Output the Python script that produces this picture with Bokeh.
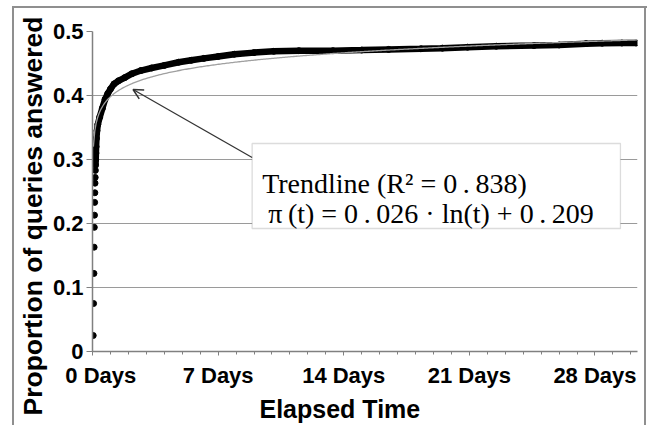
import numpy as np
from bokeh.plotting import figure
from bokeh.models import (FixedTicker, Label, BoxAnnotation, Arrow, OpenHead,
                          Range1d, Title)
from bokeh.embed import file_html
from bokeh.resources import INLINE

# ---- data ----
elapsed_days = [0.04, 0.06, 0.08, 0.09, 0.10, 0.11, 0.12, 0.13, 0.14, 0.15, 0.16,
                0.17, 0.18, 0.19, 0.20, 0.22, 0.25, 0.30, 0.40, 0.55, 0.70, 0.85,
                1.0, 1.2, 1.45, 1.8, 2.2, 2.7, 3.3, 4.0, 4.8, 5.5, 6.2, 7.0, 7.9,
                9.0, 10.1, 11.5, 13.4, 15.0, 16.5, 18.3, 19.5, 20.9, 22.5, 24.6,
                26.0, 27.5, 28.4, 29.5, 30.3]
proportion = [0.025, 0.075, 0.122, 0.163, 0.194, 0.213, 0.233, 0.248, 0.263, 0.272,
              0.283, 0.291, 0.300, 0.310, 0.320, 0.333, 0.345, 0.355, 0.366, 0.380,
              0.394, 0.403, 0.410, 0.418, 0.423, 0.428, 0.434, 0.439, 0.443, 0.447,
              0.452, 0.455, 0.458, 0.461, 0.4645, 0.467, 0.469, 0.470, 0.470, 0.471,
              0.472, 0.473, 0.474, 0.4755, 0.477, 0.478, 0.479, 0.481, 0.4817,
              0.482, 0.482]

# trendline coefficients as printed on the chart (t in minutes)
trend_slope = 0.026
trend_intercept = 0.209

x_ticks = [0, 7, 14, 21, 28]
x_tick_labels = ["\u00a0\u00a0\u20090 Days", "7 Days", "14 Days", "21 Days", "28 Days"]
y_ticks = [0, 0.1, 0.2, 0.3, 0.4, 0.5]
y_tick_labels = ["0", "0.1", "0.2", "0.3", "0.4", "0.5"]

X_MAX = 30.37

G = "linear-gradient(#8f8f8f, #8f8f8f)"
border_css = (f"{G} 12px 6px / 2px 430px no-repeat, "
              f"{G} 12px 6px / 635px 2px no-repeat, "
              f"{G} 644px 6px / 2px 430px no-repeat, #ffffff")

p = figure(width=650, height=425, output_backend="svg", toolbar_location=None,
           x_range=Range1d(0, X_MAX), y_range=Range1d(0, 0.5),
           min_border_left=92, min_border_right=13, min_border_top=31,
           min_border_bottom=74,
           styles={"background": border_css})
p.outline_line_color = None
p.background_fill_color = "white"
p.border_fill_color = None

# grid
p.xgrid.grid_line_color = None
p.ygrid.grid_line_color = "#9a9a9a"
p.ygrid.grid_line_width = 1.2

# axes
p.xaxis.ticker = FixedTicker(ticks=x_ticks, minor_ticks=list(range(0, 31)))
p.xaxis.major_label_overrides = {t: l for t, l in zip(x_ticks, x_tick_labels)}
p.yaxis.ticker = FixedTicker(ticks=y_ticks)
p.yaxis.major_label_overrides = {t: l for t, l in zip(y_ticks, y_tick_labels)}
for ax in (p.xaxis, p.yaxis):
    ax.axis_line_color = "#808080"
    ax.axis_line_width = 1.5
    ax.major_tick_line_color = "#808080"
    ax.minor_tick_line_color = "#808080"
    ax.major_tick_in = 0
    ax.minor_tick_in = 0
    ax.major_label_text_font = "Liberation Sans"
    ax.major_label_text_font_style = "bold"
    ax.major_label_text_font_size = "22px"
    ax.major_label_text_color = "black"
p.xaxis.major_tick_out = 4
p.xaxis.minor_tick_out = 3
p.xaxis.major_label_standoff = 7
p.yaxis.major_tick_out = 6
p.yaxis.minor_tick_out = 0
p.yaxis.major_label_standoff = 3

# axis titles (side titles so they can be shifted like the reference)
p.add_layout(Title(text="Proportion of queries answered", align="left", offset=-64,
                   text_font="Liberation Sans", text_font_style="bold",
                   text_font_size="26.5px", text_color="black", standoff=4), "left")
p.add_layout(Title(text="Elapsed Time", align="left", offset=167,
                   text_font="Liberation Sans", text_font_style="bold",
                   text_font_size="25px", text_color="black", standoff=4), "below")

def px_to_x(X):
    return (X - 92.5) / 17.93

def px_to_y(Y):
    return (351 - Y) / 640.0

# data
t = np.array(elapsed_days)
v = np.array(proportion)
dense = t >= 0.17
p.line(t[dense], v[dense], line_color="black", line_width=6.5)
p.scatter(t, v, size=6, color="black")

# trendline
tt = np.linspace(0.05, X_MAX, 400)
p.line(tt, trend_slope * np.log(tt * 1440) + trend_intercept,
       line_color="#a0a0a0", line_width=1.3)

# annotation box
p.add_layout(BoxAnnotation(left=px_to_x(252), right=px_to_x(620), top=px_to_y(143),
                           bottom=px_to_y(228), fill_color="white", fill_alpha=1,
                           line_color="#8c8c8c", line_width=1.3))
p.add_layout(Arrow(x_start=px_to_x(252), y_start=px_to_y(157),
                   x_end=px_to_x(133), y_end=px_to_y(89),
                   line_color="#333333", line_width=1.3,
                   end=OpenHead(size=10, line_color="#333333", line_width=1.5)))
p.add_layout(Label(x=px_to_x(262), y=px_to_y(183),
                   text="Trendline (R\u00b2 = 0\u2009.\u2009838)",
                   text_font="Liberation Serif", text_font_size="28px",
                   text_baseline="alphabetic", text_color="black"))
p.add_layout(Label(x=px_to_x(268), y=px_to_y(213),
                   text="\u03c0\u2009(t) = 0\u2009.\u2009026 \u00b7 ln(t) + 0\u2009.\u2009209",
                   text_font="Liberation Serif", text_font_size="28px",
                   text_baseline="alphabetic", text_color="black"))

open("out.html", "w").write(file_html(p, INLINE))
